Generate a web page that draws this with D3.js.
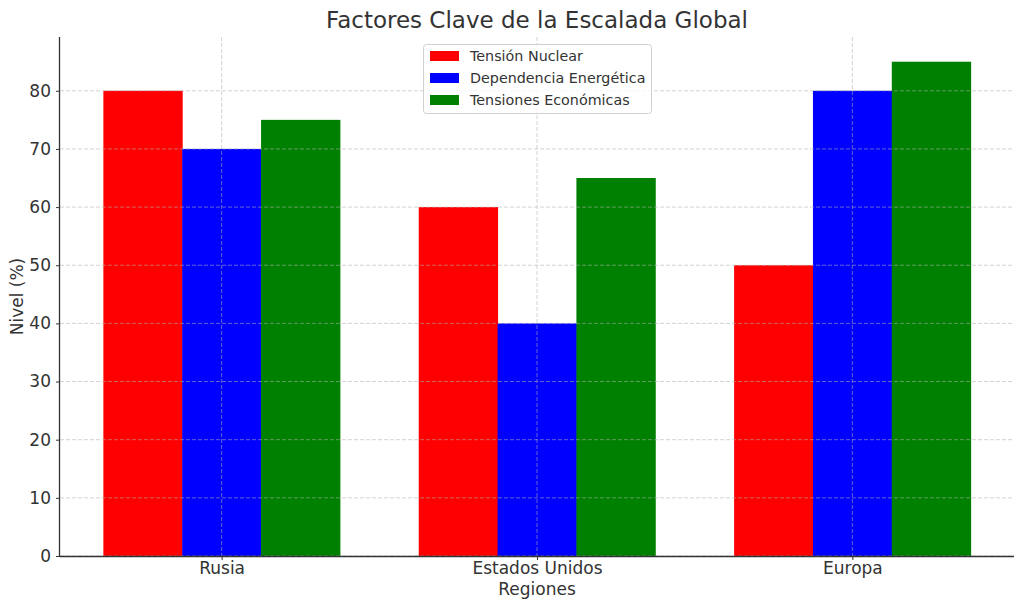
<!DOCTYPE html>
<html><head><meta charset="utf-8">
<script src="https://cdn.jsdelivr.net/npm/d3@7"></script>
<style>body{margin:0;background:#fff}svg{display:block}text{font-family:"DejaVu Sans",sans-serif;fill:#333}</style>
</head><body>
<svg id="c" width="1024" height="611"></svg>
<script>
const categories = ["Rusia", "Estados Unidos", "Europa"];
const seriesNames = ["Tensión Nuclear", "Dependencia Energética", "Tensiones Económicas"];
const tensionNuclear = [80, 60, 50];
const dependenciaEnergetica = [70, 40, 80];
const tensionesEconomicas = [75, 65, 85];
const colors = ["#ff0000", "#0000ff", "#008000"];
const yTicks = [0, 10, 20, 30, 40, 50, 60, 70, 80];
const series = [tensionNuclear, dependenciaEnergetica, tensionesEconomicas];

const svg = d3.select("#c");
const L = 60, R = 1014, T = 37, B = 556;
const barW = 0.25;
const x = d3.scaleLinear().domain([-0.5125, 2.5125]).range([L, R]);
const y = d3.scaleLinear().domain([0, 89.25]).range([B, T]);

// bars
series.forEach((s, si) => {
  svg.append("g").selectAll("rect").data(s).join("rect")
    .attr("x", (d, i) => x(i + (si - 1) * barW - barW / 2))
    .attr("width", (d, i) => x(barW) - x(0) + 0.5)
    .attr("y", d => y(d))
    .attr("height", d => y(0) - y(d))
    .attr("fill", colors[si]);
});

// grid on top
const grid = svg.append("g");
yTicks.forEach(t => {
  grid.append("line").attr("x1", L).attr("x2", R).attr("y1", y(t)).attr("y2", y(t))
    .attr("stroke", "#b0b0b0").attr("stroke-opacity", 0.7).attr("stroke-dasharray", "4,2").attr("stroke-width", 0.8);
});
categories.forEach((c, i) => {
  grid.append("line").attr("x1", x(i)).attr("x2", x(i)).attr("y1", T).attr("y2", B)
    .attr("stroke", "#b0b0b0").attr("stroke-opacity", 0.7).attr("stroke-dasharray", "4,2").attr("stroke-width", 0.8);
});

// axes
const yAxis = d3.axisLeft(y).tickValues(yTicks).tickSize(4).tickPadding(5);
const gy = svg.append("g").attr("transform", `translate(${L},0)`).call(yAxis);
gy.select(".domain").attr("d", `M-0.5,${T}V${B}`).attr("stroke", "#333").attr("stroke-width", 1.3);
gy.selectAll(".tick line").attr("stroke", "#333");
gy.selectAll(".tick text").attr("font-size", 17).attr("fill", "#333").style("font-family", "DejaVu Sans");

const xAxis = d3.axisBottom(x).tickValues([0, 1, 2]).tickFormat(i => categories[i]).tickSize(4).tickPadding(2);
const gx = svg.append("g").attr("transform", `translate(0,${B})`).call(xAxis);
gx.select(".domain").attr("d", `M${L},0.5H${R}`).attr("stroke", "#333").attr("stroke-width", 1.3);
gx.selectAll(".tick line").attr("stroke", "#333");
gx.selectAll(".tick text").attr("font-size", 17).attr("fill", "#333").style("font-family", "DejaVu Sans");

// labels
svg.append("text").attr("x", (L + R) / 2).attr("y", 28).attr("text-anchor", "middle").attr("font-size", 23).text("Factores Clave de la Escalada Global");
svg.append("text").attr("x", (L + R) / 2).attr("y", 595).attr("text-anchor", "middle").attr("font-size", 17).text("Regiones");
svg.append("text").attr("transform", `translate(23,${(T + B) / 2}) rotate(-90)`).attr("text-anchor", "middle").attr("font-size", 17).text("Nivel (%)");

// legend
const lg = svg.append("g").attr("transform", "translate(423,44)");
lg.append("rect").attr("x", 0.5).attr("y", 0.5).attr("width", 228).attr("height", 69).attr("rx", 3)
  .attr("fill", "#fff").attr("fill-opacity", 0.8).attr("stroke", "#d0d0d0");
seriesNames.forEach((n, i) => {
  lg.append("rect").attr("x", 7).attr("y", 7 + i * 22).attr("width", 29).attr("height", 10).attr("fill", colors[i]);
  lg.append("text").attr("x", 47).attr("y", 17 + i * 22).attr("font-size", 14.3).text(n);
});
</script>
</body></html>
